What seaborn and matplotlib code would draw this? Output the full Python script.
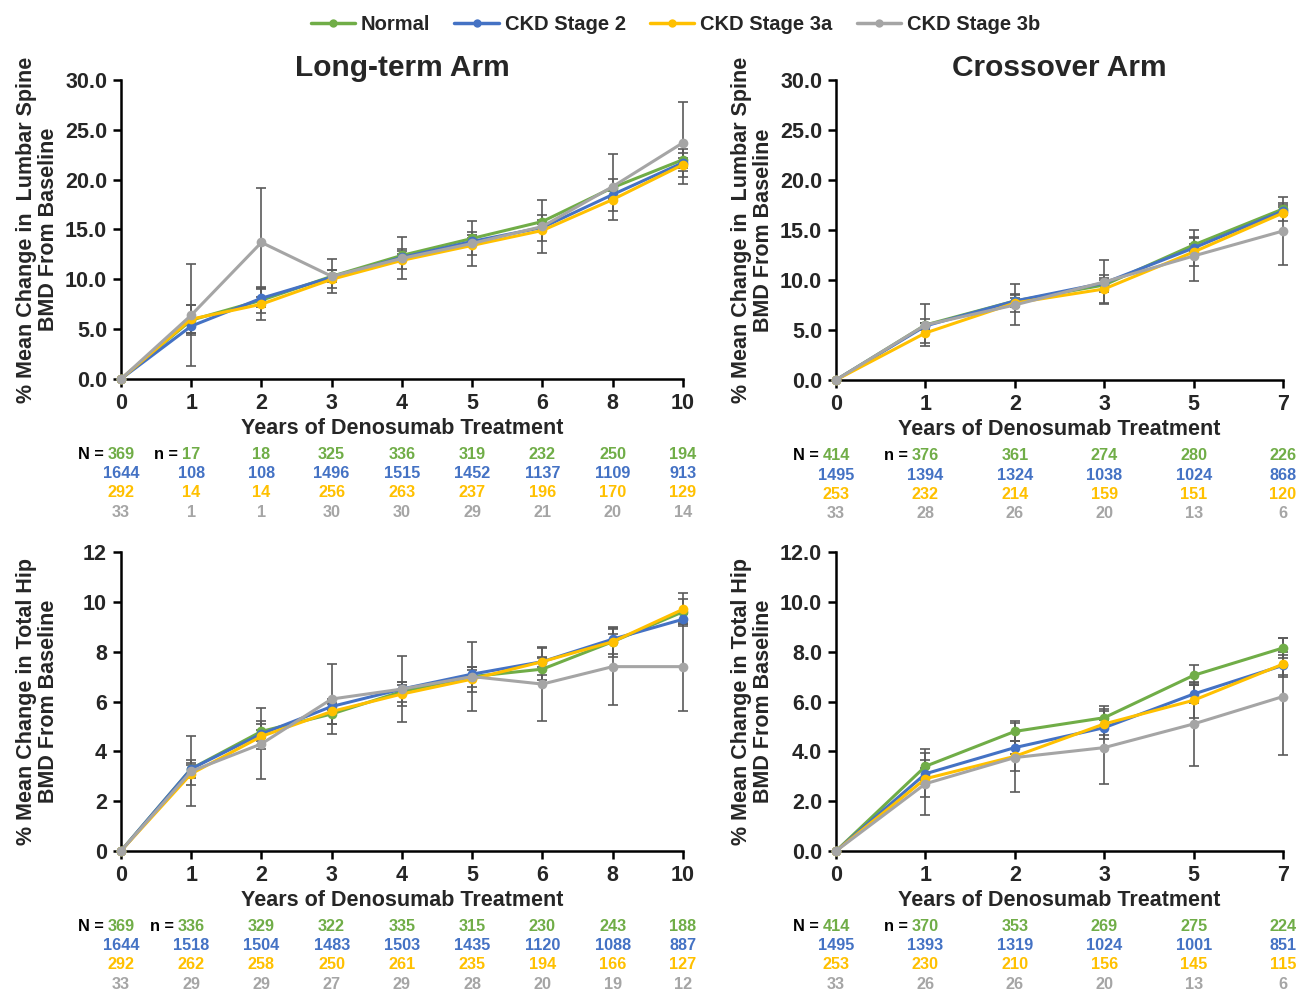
import numpy as np
import matplotlib
matplotlib.use("Agg")
import matplotlib.pyplot as plt
from matplotlib.lines import Line2D
import pandas as pd
import seaborn as sns

sns.set_style("ticks")
plt.rcParams['font.family'] = ['Liberation Sans', 'DejaVu Sans']
plt.rcParams['font.weight'] = 'bold'
plt.rcParams['axes.labelweight'] = 'bold'
plt.rcParams['axes.titleweight'] = 'bold'

groups = ["Normal", "CKD Stage 2", "CKD Stage 3a", "CKD Stage 3b"]
colors = {"Normal": "#70AD47", "CKD Stage 2": "#4472C4",
          "CKD Stage 3a": "#FFC000", "CKD Stage 3b": "#A5A5A5"}
err_color = "#5a5a5a"

# x categories
years_lt = ["0", "1", "2", "3", "4", "5", "6", "8", "10"]
years_co = ["0", "1", "2", "3", "5", "7"]

# lumbar spine, long-term arm
ls_lt_normal = [0, 5.9, 7.9, 10.3, 12.4, 14.1, 15.8, 19.2, 22.0]
ls_lt_ckd2 = [0, 5.3, 8.1, 10.2, 12.2, 13.8, 15.2, 18.5, 21.7]
ls_lt_ckd3a = [0, 6.0, 7.5, 10.0, 11.9, 13.4, 14.9, 18.0, 21.5]
ls_lt_ckd3b = [0, 6.4, 13.7, 10.3, 12.1, 13.6, 15.3, 19.3, 23.7]
ls_lt_err_normal = [0, 1.5, 1.3, 0.6, 0.6, 0.6, 0.7, 0.9, 1.1]
ls_lt_err_ckd2 = [0, 0.7, 0.9, 0.3, 0.3, 0.3, 0.35, 0.4, 0.5]
ls_lt_err_ckd3a = [0, 1.4, 1.6, 0.9, 0.9, 1.0, 1.1, 1.1, 1.2]
ls_lt_err_ckd3b = [0, 5.1, 5.5, 1.7, 2.1, 2.3, 2.65, 3.3, 4.1]

# lumbar spine, crossover arm
ls_co_normal = [0, 5.5, 7.9, 9.5, 13.5, 17.1]
ls_co_ckd2 = [0, 5.4, 7.9, 9.7, 13.2, 16.9]
ls_co_ckd3a = [0, 4.7, 7.7, 9.1, 12.8, 16.7]
ls_co_ckd3b = [0, 5.5, 7.5, 9.8, 12.4, 14.9]
ls_co_err_normal = [0, 0.55, 0.6, 0.7, 0.8, 0.6]
ls_co_err_ckd2 = [0, 0.3, 0.3, 0.3, 0.35, 0.4]
ls_co_err_ckd3a = [0, 1.0, 0.9, 1.4, 1.4, 0.8]
ls_co_err_ckd3b = [0, 2.1, 2.05, 2.2, 2.55, 3.4]

# total hip, long-term arm
th_lt_normal = [0, 3.3, 4.8, 5.5, 6.4, 7.0, 7.3, 8.4, 9.6]
th_lt_ckd2 = [0, 3.3, 4.7, 5.8, 6.5, 7.1, 7.6, 8.5, 9.3]
th_lt_ckd3a = [0, 3.1, 4.6, 5.6, 6.3, 6.9, 7.6, 8.4, 9.7]
th_lt_ckd3b = [0, 3.2, 4.3, 6.1, 6.5, 7.0, 6.7, 7.4, 7.4]
th_lt_err_normal = [0, 0.35, 0.4, 0.4, 0.4, 0.4, 0.45, 0.5, 0.5]
th_lt_err_ckd2 = [0, 0.15, 0.15, 0.15, 0.15, 0.15, 0.2, 0.2, 0.2]
th_lt_err_ckd3a = [0, 0.45, 0.5, 0.5, 0.5, 0.5, 0.55, 0.6, 0.65]
th_lt_err_ckd3b = [0, 1.4, 1.43, 1.4, 1.33, 1.37, 1.5, 1.55, 1.8]

# total hip, crossover arm
th_co_normal = [0, 3.4, 4.8, 5.35, 7.05, 8.15]
th_co_ckd2 = [0, 3.1, 4.15, 4.95, 6.3, 7.45]
th_co_ckd3a = [0, 2.9, 3.8, 5.1, 6.05, 7.5]
th_co_ckd3b = [0, 2.7, 3.75, 4.15, 5.1, 6.2]
th_co_err_normal = [0, 0.7, 0.4, 0.45, 0.4, 0.4]
th_co_err_ckd2 = [0, 0.25, 0.25, 0.3, 0.35, 0.4]
th_co_err_ckd3a = [0, 0.75, 0.6, 0.6, 0.7, 0.5]
th_co_err_ckd3b = [0, 1.25, 1.4, 1.45, 1.7, 2.35]

# patients per timepoint
n_ls_lt = [[369, 17, 18, 325, 336, 319, 232, 250, 194],
           [1644, 108, 108, 1496, 1515, 1452, 1137, 1109, 913],
           [292, 14, 14, 256, 263, 237, 196, 170, 129],
           [33, 1, 1, 30, 30, 29, 21, 20, 14]]
n_ls_co = [[414, 376, 361, 274, 280, 226],
           [1495, 1394, 1324, 1038, 1024, 868],
           [253, 232, 214, 159, 151, 120],
           [33, 28, 26, 20, 13, 6]]
n_th_lt = [[369, 336, 329, 322, 335, 315, 230, 243, 188],
           [1644, 1518, 1504, 1483, 1503, 1435, 1120, 1088, 887],
           [292, 262, 258, 250, 261, 235, 194, 166, 127],
           [33, 29, 29, 27, 29, 28, 20, 19, 12]]
n_th_co = [[414, 370, 353, 269, 275, 224],
           [1495, 1393, 1319, 1024, 1001, 851],
           [253, 230, 210, 156, 145, 115],
           [33, 26, 26, 20, 13, 6]]

label_ls = "% Mean Change in  Lumbar Spine\nBMD From Baseline"
label_th = "% Mean Change in Total Hip\nBMD From Baseline"

fig = plt.figure(figsize=(12.99, 9.9), dpi=100)
ax_tl = fig.add_axes([0.0931, 0.6172, 0.4326, 0.3020])
ax_tr = fig.add_axes([0.6436, 0.6162, 0.3441, 0.3030])
ax_bl = fig.add_axes([0.0931, 0.1404, 0.4326, 0.3020])
ax_br = fig.add_axes([0.6436, 0.1404, 0.3441, 0.3020])

fs_num = 11.7
fs_lab = 15.5
num_px = fs_num * 100 / 72


def panel(ax, years, series, errs, counts, ylim, yticks, yfmt, ylabel, title, lab_x):
    pos = np.arange(len(years))
    rows = []
    for g, vals in zip(groups, series):
        for p, v in zip(pos, vals):
            rows.append({"pos": p, "value": v, "group": g})
    df = pd.DataFrame(rows)

    for g, vals, e in zip(groups, series, errs):
        ax.errorbar(pos, vals, yerr=e, fmt='none', ecolor=err_color,
                    elinewidth=1.2, capsize=3.5, capthick=1.2, zorder=1, clip_on=False)

    sns.lineplot(data=df, x="pos", y="value", hue="group", hue_order=groups,
                 palette=colors, marker="o", markersize=7, markeredgewidth=0,
                 linewidth=2.2, errorbar=None, legend=False, ax=ax,
                 clip_on=False, zorder=3)

    ax.set_xlim(0, len(years) - 1)
    ax.set_ylim(*ylim)
    ax.set_xticks(pos)
    ax.set_xticklabels(years)
    ax.set_yticks(yticks)
    ax.set_yticklabels([yfmt.format(t) for t in yticks])
    ax.tick_params(labelsize=fs_lab, width=1.8, length=6, color='black', pad=4)
    for lab in ax.get_xticklabels() + ax.get_yticklabels():
        lab.set_fontweight('bold')
    for s in ["top", "right"]:
        ax.spines[s].set_visible(False)
    for s in ["left", "bottom"]:
        ax.spines[s].set_linewidth(1.8)
        ax.spines[s].set_color('black')
    ax.set_xlabel("Years of Denosumab Treatment", fontsize=fs_lab, labelpad=3)
    ax.set_ylabel(ylabel, fontsize=fs_lab, linespacing=1.1)
    ax.yaxis.set_label_coords(lab_x, 0.5)
    if title:
        ax.set_title(title, fontsize=21.5, y=1.0, pad=3)

    # N table under the axis
    row_y = [-0.253, -0.317, -0.381, -0.445]
    tr = ax.get_xaxis_transform()
    for r, (g, cnt) in enumerate(zip(groups, counts)):
        for p, c in zip(pos, cnt):
            ax.annotate(str(c), xy=(p, row_y[r]), xycoords=tr, ha='center', va='center',
                        fontsize=fs_num, color=colors[g], fontweight='bold', annotation_clip=False)
    for p, lab in [(0, "N ="), (1, "n =")]:
        half = len(str(counts[0][p])) * 0.556 * num_px / 2
        ax.annotate(lab, xy=(p, row_y[0]), xycoords=tr, xytext=(-half - 4, 0),
                    textcoords='offset pixels', ha='right', va='center',
                    fontsize=fs_num, color='black', fontweight='bold', annotation_clip=False)


panel(ax_tl, years_lt,
      [ls_lt_normal, ls_lt_ckd2, ls_lt_ckd3a, ls_lt_ckd3b],
      [ls_lt_err_normal, ls_lt_err_ckd2, ls_lt_err_ckd3a, ls_lt_err_ckd3b],
      n_ls_lt, (0, 30), np.arange(0, 31, 5), "{:.1f}", label_ls, "Long-term Arm", -0.11)
panel(ax_tr, years_co,
      [ls_co_normal, ls_co_ckd2, ls_co_ckd3a, ls_co_ckd3b],
      [ls_co_err_normal, ls_co_err_ckd2, ls_co_err_ckd3a, ls_co_err_ckd3b],
      n_ls_co, (0, 30), np.arange(0, 31, 5), "{:.1f}", label_ls, "Crossover Arm", -0.138)
panel(ax_bl, years_lt,
      [th_lt_normal, th_lt_ckd2, th_lt_ckd3a, th_lt_ckd3b],
      [th_lt_err_normal, th_lt_err_ckd2, th_lt_err_ckd3a, th_lt_err_ckd3b],
      n_th_lt, (0, 12), np.arange(0, 13, 2), "{:.0f}", label_th, None, -0.11)
panel(ax_br, years_co,
      [th_co_normal, th_co_ckd2, th_co_ckd3a, th_co_ckd3b],
      [th_co_err_normal, th_co_err_ckd2, th_co_err_ckd3a, th_co_err_ckd3b],
      n_th_co, (0, 12), np.arange(0, 13, 2), "{:.1f}", label_th, None, -0.138)

handles = [Line2D([0], [0], color=colors[g], lw=2.5, marker='o', markersize=6,
                  markeredgewidth=0) for g in groups]
fig.legend(handles, groups, loc='upper center', bbox_to_anchor=(0.52, 1.003), ncol=4,
           frameon=False, handlelength=2.2, handletextpad=0.3,
           columnspacing=1.2, prop={'weight': 'bold', 'size': 14.5})

fig.savefig("out.png", dpi=100)
